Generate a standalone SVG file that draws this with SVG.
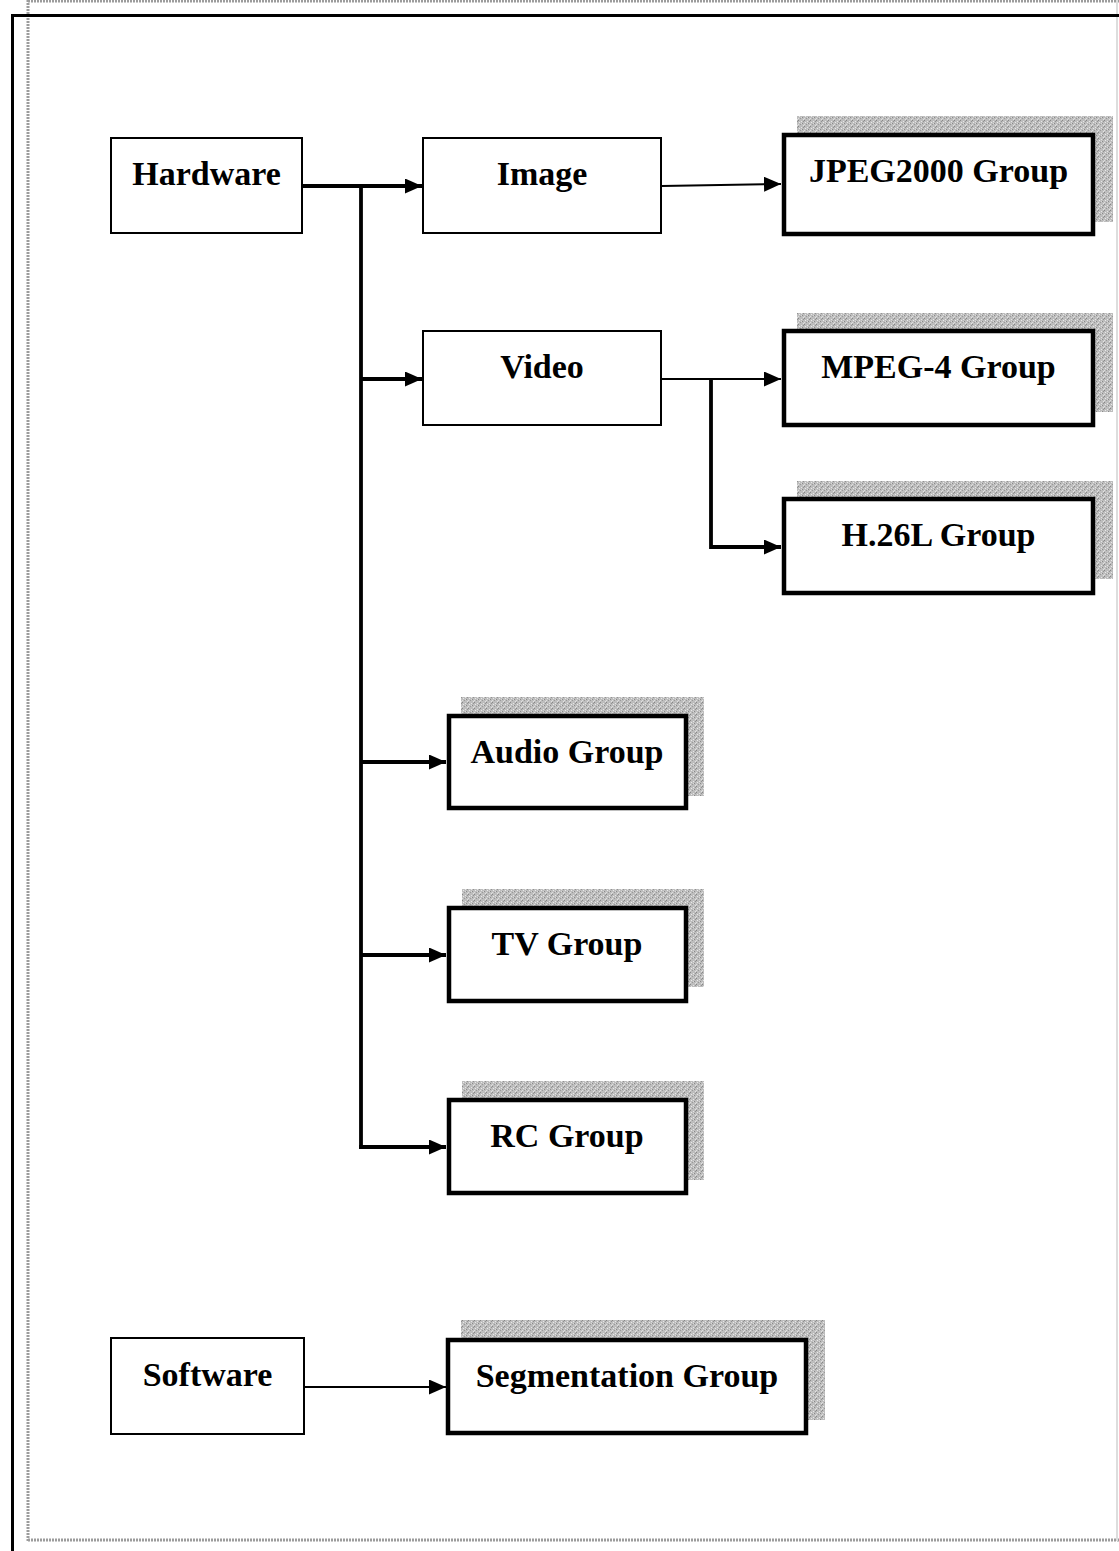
<svg xmlns="http://www.w3.org/2000/svg" width="1119" height="1551" viewBox="0 0 1119 1551">
<style>
  .thin { fill: #ffffff; stroke: #000000; stroke-width: 2; }
  .thick { fill: #ffffff; stroke: #000000; stroke-width: 4.5; }
  .shadow { fill: url(#grain); stroke: none; }
  .lbl { font-family: "Liberation Serif", "Times New Roman", serif; font-weight: bold; font-size: 34px; fill: #000000; text-anchor: middle; }
  .cw { fill: none; stroke: #000000; stroke-width: 3.8; }
  .cn { fill: none; stroke: #000000; stroke-width: 2; }
  .dotted { fill: none; stroke: #9c9c9c; stroke-width: 3; stroke-dasharray: 2 1; }
</style>
<defs>
  <pattern id="grain" width="6" height="6" patternUnits="userSpaceOnUse">
    <rect width="6" height="6" fill="#bdbdbd"/>
    <rect x="0" y="0" width="1" height="1" fill="#878787"/>
    <rect x="3" y="1" width="1" height="1" fill="#e6e6e6"/>
    <rect x="1" y="2" width="1" height="1" fill="#e9e9e9"/>
    <rect x="4" y="3" width="1" height="1" fill="#8a8a8a"/>
    <rect x="2" y="4" width="1" height="1" fill="#999999"/>
    <rect x="5" y="5" width="1" height="1" fill="#e2e2e2"/>
    <rect x="5" y="1" width="1" height="1" fill="#939393"/>
    <rect x="0" y="4" width="1" height="1" fill="#dedede"/>
    <rect x="3" y="3" width="1" height="1" fill="#d8d8d8"/>
  </pattern>
  <marker id="ah" markerUnits="userSpaceOnUse" markerWidth="18" markerHeight="15" refX="17" refY="7.5" orient="auto">
    <path d="M0,0 L17,7.5 L0,15 z" fill="#000000"/>
  </marker>
</defs>
<rect width="1119" height="1551" fill="#ffffff"/>
<g id="frame">
  <line class="dotted" x1="28" y1="0" x2="28" y2="1541"/>
  <line class="dotted" x1="28" y1="1540" x2="1119" y2="1540"/>
  <line class="dotted" x1="28" y1="1" x2="1119" y2="1"/>
  <line x1="1117" y1="0" x2="1117" y2="1541" stroke="#dddddd" stroke-width="2"/>
  <line x1="12.5" y1="14" x2="12.5" y2="1551" stroke="#000000" stroke-width="3"/>
  <line x1="11" y1="15.5" x2="1119" y2="15.5" stroke="#000000" stroke-width="3"/>
</g>
<g id="connectors">
  <line class="cw" x1="303" y1="186" x2="422" y2="186" marker-end="url(#ah)"/>
  <line class="cw" x1="361" y1="186" x2="361" y2="1149"/>
  <line class="cw" x1="361" y1="379" x2="422" y2="379" marker-end="url(#ah)"/>
  <line class="cw" x1="361" y1="762" x2="446" y2="762" marker-end="url(#ah)"/>
  <line class="cw" x1="361" y1="955" x2="446" y2="955" marker-end="url(#ah)"/>
  <line class="cw" x1="359.1" y1="1147" x2="446" y2="1147" marker-end="url(#ah)"/>
  <line class="cn" x1="662" y1="186" x2="781" y2="184" marker-end="url(#ah)"/>
  <line class="cn" x1="662" y1="379" x2="781" y2="379" marker-end="url(#ah)"/>
  <polyline class="cw" points="711,379 711,547 781,547" marker-end="url(#ah)"/>
  <line class="cn" x1="305" y1="1387" x2="446" y2="1387" marker-end="url(#ah)"/>
</g>
<g id="hardware">
  <rect class="thin" x="111" y="138" width="191" height="95"/>
  <text class="lbl" x="206.5" y="185">Hardware</text>
</g>
<g id="image">
  <rect class="thin" x="423" y="138" width="238" height="95"/>
  <text class="lbl" x="542" y="185">Image</text>
</g>
<g id="video">
  <rect class="thin" x="423" y="331" width="238" height="94"/>
  <text class="lbl" x="542" y="378">Video</text>
</g>
<g id="jpeg2000">
  <rect class="shadow" x="797" y="116" width="316" height="106"/>
  <rect class="thick" x="784" y="135" width="309" height="99"/>
  <text class="lbl" x="938.5" y="182">JPEG2000 Group</text>
</g>
<g id="mpeg4">
  <rect class="shadow" x="797" y="313" width="316" height="99"/>
  <rect class="thick" x="784" y="331" width="309" height="94"/>
  <text class="lbl" x="938.5" y="378">MPEG-4 Group</text>
</g>
<g id="h26l">
  <rect class="shadow" x="797" y="481" width="316" height="98"/>
  <rect class="thick" x="784" y="499" width="309" height="94"/>
  <text class="lbl" x="938.5" y="546">H.26L Group</text>
</g>
<g id="audio">
  <rect class="shadow" x="461" y="697" width="243" height="99"/>
  <rect class="thick" x="449" y="716" width="237" height="92"/>
  <text class="lbl" x="567" y="763">Audio Group</text>
</g>
<g id="tv">
  <rect class="shadow" x="462" y="889" width="242" height="98"/>
  <rect class="thick" x="449" y="908" width="237" height="93"/>
  <text class="lbl" x="567" y="955">TV Group</text>
</g>
<g id="rc">
  <rect class="shadow" x="462" y="1081" width="242" height="99"/>
  <rect class="thick" x="449" y="1100" width="237" height="93"/>
  <text class="lbl" x="567" y="1147">RC Group</text>
</g>
<g id="software">
  <rect class="thin" x="111" y="1338" width="193" height="96"/>
  <text class="lbl" x="207.5" y="1386">Software</text>
</g>
<g id="segmentation">
  <rect class="shadow" x="461" y="1320" width="364" height="100"/>
  <rect class="thick" x="448" y="1340" width="358" height="93"/>
  <text class="lbl" x="627" y="1387">Segmentation Group</text>
</g>
</svg>
